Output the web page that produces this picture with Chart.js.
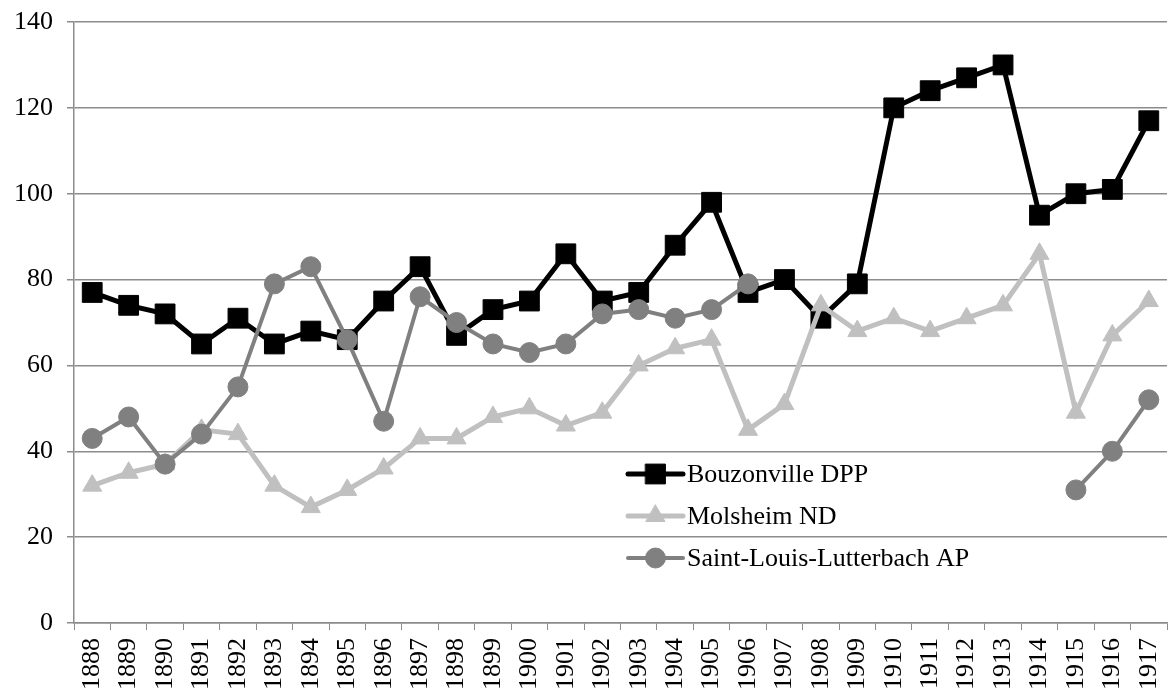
<!DOCTYPE html>
<html>
<head>
<meta charset="utf-8">
<script src="https://cdn.jsdelivr.net/npm/chart.js@4/dist/chart.umd.min.js"></script>
<style>
  html, body { margin: 0; padding: 0; background: #ffffff; }
  #wrap { width: 1169px; height: 693px; position: relative; }
</style>
</head>
<body>
<div id="wrap"><canvas id="c" width="1169" height="693"></canvas></div>
<script>
const years = ['1888','1889','1890','1891','1892','1893','1894','1895','1896','1897','1898','1899','1900','1901','1902','1903','1904','1905','1906','1907','1908','1909','1910','1911','1912','1913','1914','1915','1916','1917'];
const bouzonville = [77,74,72,65,71,65,68,66,75,83,67,73,75,86,75,77,88,98,77,80,71,79,120,124,127,130,95,100,101,117];
const molsheim = [32,35,37,45,44,32,27,31,36,43,43,48,50,46,49,60,64,66,45,51,74,68,71,68,71,74,86,49,67,75];
const saintLouis = [43,48,37,44,55,79,83,66,47,76,70,65,63,65,72,73,71,73,79,null,null,null,null,null,null,null,null,31,40,52];
const yTicks = [0,20,40,60,80,100,120,140];

const FONT = "'Liberation Serif', 'Times New Roman', serif";
const GRID = '#8c8c8c';
const PLOT_RIGHT = 1167;

const areaPlugin = {
  id: 'fixArea',
  afterLayout(chart) {
    const a = chart.chartArea;
    const xs = chart.scales.x;
    a.right = PLOT_RIGHT;
    a.width = a.right - a.left;
    xs.right = PLOT_RIGHT;
    xs.width = xs.right - xs.left;
    xs.configure();
  }
};

const legendPlugin = {
  id: 'innerLegend',
  afterDraw(chart, args, opts) {
    const ctx = chart.ctx;
    ctx.save();
    chart.data.datasets.forEach((ds, i) => {
      const y = opts.y + i * opts.rowGap;
      ctx.strokeStyle = ds.borderColor;
      ctx.lineWidth = ds.borderWidth;
      ctx.lineCap = 'round';
      ctx.beginPath();
      ctx.moveTo(opts.x, y);
      ctx.lineTo(opts.x + opts.lineLen, y);
      ctx.stroke();
      ctx.fillStyle = ds.pointBackgroundColor;
      ctx.strokeStyle = ds.pointBorderColor;
      ctx.lineWidth = ds.pointBorderWidth;
      Chart.helpers.drawPoint(ctx, {pointStyle: ds.pointStyle, radius: ds.pointRadius, rotation: 0, borderWidth: ds.pointBorderWidth}, opts.x + opts.lineLen / 2, y);
      ctx.fillStyle = '#000';
      ctx.font = '26px ' + FONT;
      ctx.textBaseline = 'middle';
      ctx.textAlign = 'left';
      ctx.fillText(ds.label, opts.x + opts.lineLen + 4, y + 1);
    });
    ctx.restore();
  }
};

new Chart(document.getElementById('c'), {
  type: 'line',
  data: {
    labels: years,
    datasets: [
      {
        label: 'Bouzonville DPP', data: bouzonville, order: 3,
        borderColor: '#000000', borderWidth: 5,
        pointStyle: 'rect', pointRadius: 14, pointHoverRadius: 14,
        pointBackgroundColor: '#000000', pointBorderColor: '#000000', pointBorderWidth: 1,
        tension: 0, spanGaps: false
      },
      {
        label: 'Molsheim ND', data: molsheim, order: 2,
        borderColor: '#c0c0c0', borderWidth: 5,
        pointStyle: 'triangle', pointRadius: 11, pointHoverRadius: 11,
        pointBackgroundColor: '#c0c0c0', pointBorderColor: '#c0c0c0', pointBorderWidth: 1,
        tension: 0, spanGaps: false
      },
      {
        label: 'Saint-Louis-Lutterbach AP', data: saintLouis, order: 1,
        borderColor: '#808080', borderWidth: 4,
        pointStyle: 'circle', pointRadius: 10, pointHoverRadius: 10,
        pointBackgroundColor: '#808080', pointBorderColor: '#808080', pointBorderWidth: 1,
        tension: 0, spanGaps: false
      }
    ]
  },
  options: {
    responsive: false,
    animation: false,
    devicePixelRatio: 1,
    layout: { padding: { left: 0, right: 2, top: 22, bottom: 0 } },
    plugins: {
      legend: { display: false },
      tooltip: { enabled: false },
      innerLegend: { x: 628, y: 474, rowGap: 42, lineLen: 55 }
    },
    scales: {
      x: {
        type: 'category',
        offset: true,
        afterFit(scale) { scale.height = 70; scale.paddingLeft = 0; scale.paddingRight = 0; scale.paddingTop = 0; scale.paddingBottom = 0; },
        grid: { offset: true, drawOnChartArea: false, drawTicks: true, tickLength: 7, color: GRID, lineWidth: 1 },
        border: { color: GRID, width: 1.5 },
        ticks: { color: '#000', font: { family: FONT, size: 26 }, minRotation: 90, maxRotation: 90, autoSkip: false, padding: 8 }
      },
      y: {
        min: 0, max: 140,
        afterBuildTicks(axis) { axis.ticks = yTicks.map(v => ({ value: v })); },
        afterFit(scale) { scale.width = 74; scale.paddingTop = 0; scale.paddingBottom = 0; scale.paddingLeft = 0; scale.paddingRight = 0; },
        grid: { drawOnChartArea: true, drawTicks: true, tickLength: 7, color: GRID, lineWidth: 1.5 },
        border: { color: GRID, width: 1.5 },
        ticks: { color: '#000', font: { family: FONT, size: 26 }, padding: 14 }
      }
    }
  },
  plugins: [areaPlugin, legendPlugin]
});
</script>
</body>
</html>
